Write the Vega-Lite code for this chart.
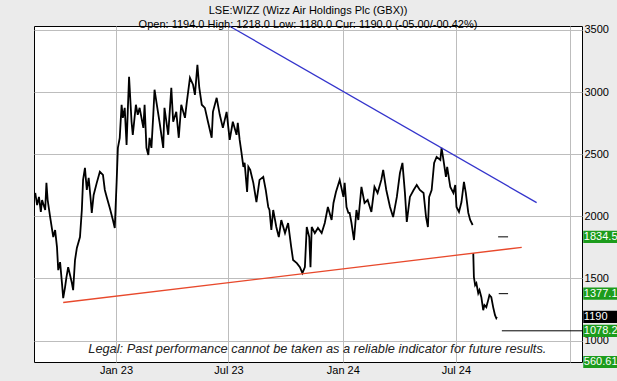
{
  "$schema": "https://vega.github.io/schema/vega-lite/v6.json",
  "width": 548,
  "height": 336,
  "autosize": {"type": "none"},
  "padding": {"left": 34, "top": 26, "right": 35, "bottom": 19},
  "background": "#ebebeb",
  "config": {
    "font": "Liberation Sans",
    "view": {"fill": "white", "stroke": "black", "strokeWidth": 1},
    "axis": {"labelFont": "Liberation Sans", "labelColor": "black", "labelFontSize": 11, "gridColor": "#bdbdbd", "gridWidth": 1, "gridOpacity": 1}
  },
  "title": {
    "text": "LSE:WIZZ (Wizz Air Holdings Plc (GBX))",
    "subtitle": "Open: 1194.0 High: 1218.0 Low: 1180.0 Cur: 1190.0 (-05.00/-00.42%)",
    "font": "Liberation Sans",
    "subtitleFont": "Liberation Sans",
    "fontSize": 11,
    "subtitleFontSize": 11,
    "fontWeight": "normal",
    "color": "black",
    "subtitleColor": "black",
    "anchor": "middle",
    "offset": -6,
    "subtitlePadding": 3
  },
  "datasets": {
    "price": [
      {"d":"2022-08-24","v":2188,"s":1},{"d":"2022-08-27","v":2091,"s":1},{"d":"2022-08-30","v":2156,"s":1},{"d":"2022-09-02","v":2035,"s":1},
      {"d":"2022-09-04","v":2131,"s":1},{"d":"2022-09-09","v":2051,"s":1},{"d":"2022-09-11","v":2269,"s":1},{"d":"2022-09-13","v":2131,"s":1},
      {"d":"2022-09-17","v":1994,"s":1},{"d":"2022-09-22","v":1833,"s":1},{"d":"2022-09-25","v":1889,"s":1},{"d":"2022-09-28","v":1752,"s":1},
      {"d":"2022-09-30","v":1567,"s":1},{"d":"2022-10-03","v":1631,"s":1},{"d":"2022-10-06","v":1462,"s":1},{"d":"2022-10-08","v":1341,"s":1},
      {"d":"2022-10-11","v":1430,"s":1},{"d":"2022-10-13","v":1502,"s":1},{"d":"2022-10-16","v":1591,"s":1},{"d":"2022-10-19","v":1527,"s":1},
      {"d":"2022-10-22","v":1462,"s":1},{"d":"2022-10-24","v":1406,"s":1},{"d":"2022-10-27","v":1648,"s":1},{"d":"2022-10-30","v":1745,"s":1},
      {"d":"2022-11-04","v":1833,"s":1},{"d":"2022-11-07","v":2051,"s":1},{"d":"2022-11-09","v":2293,"s":1},{"d":"2022-11-12","v":2390,"s":1},
      {"d":"2022-11-15","v":2212,"s":1},{"d":"2022-11-18","v":2309,"s":1},{"d":"2022-11-21","v":2148,"s":1},{"d":"2022-11-23","v":2027,"s":1},
      {"d":"2022-11-26","v":2172,"s":1},{"d":"2022-12-01","v":2269,"s":1},{"d":"2022-12-06","v":2358,"s":1},{"d":"2022-12-11","v":2333,"s":1},
      {"d":"2022-12-14","v":2212,"s":1},{"d":"2022-12-17","v":2156,"s":1},{"d":"2022-12-22","v":2067,"s":1},{"d":"2022-12-27","v":1970,"s":1},
      {"d":"2022-12-30","v":1906,"s":1},{"d":"2023-01-02","v":2277,"s":1},{"d":"2023-01-04","v":2551,"s":1},{"d":"2023-01-07","v":2632,"s":1},
      {"d":"2023-01-10","v":2898,"s":1},{"d":"2023-01-12","v":2793,"s":1},{"d":"2023-01-15","v":2873,"s":1},{"d":"2023-01-18","v":2575,"s":1},
      {"d":"2023-01-20","v":2857,"s":1},{"d":"2023-01-22","v":3123,"s":1},{"d":"2023-01-26","v":2761,"s":1},{"d":"2023-01-28","v":2656,"s":1},
      {"d":"2023-02-02","v":2898,"s":1},{"d":"2023-02-05","v":2817,"s":1},{"d":"2023-02-08","v":2873,"s":1},{"d":"2023-02-14","v":2712,"s":1},
      {"d":"2023-02-16","v":2898,"s":1},{"d":"2023-02-19","v":2551,"s":1},{"d":"2023-02-22","v":2494,"s":1},{"d":"2023-02-24","v":2632,"s":1},
      {"d":"2023-02-27","v":2551,"s":1},{"d":"2023-03-02","v":2817,"s":1},{"d":"2023-03-04","v":3019,"s":1},{"d":"2023-03-07","v":2922,"s":1},
      {"d":"2023-03-12","v":2761,"s":1},{"d":"2023-03-18","v":2551,"s":1},{"d":"2023-03-20","v":2873,"s":1},{"d":"2023-03-26","v":2656,"s":1},
      {"d":"2023-03-31","v":3035,"s":1},{"d":"2023-04-03","v":2761,"s":1},{"d":"2023-04-08","v":2841,"s":1},{"d":"2023-04-12","v":2632,"s":1},
      {"d":"2023-04-16","v":2898,"s":1},{"d":"2023-04-22","v":2793,"s":1},{"d":"2023-04-25","v":2922,"s":1},{"d":"2023-04-30","v":3115,"s":1},
      {"d":"2023-05-05","v":3059,"s":1},{"d":"2023-05-08","v":2978,"s":1},{"d":"2023-05-12","v":3220,"s":1},{"d":"2023-05-15","v":3035,"s":1},
      {"d":"2023-05-19","v":2898,"s":1},{"d":"2023-05-24","v":2873,"s":1},{"d":"2023-05-29","v":2761,"s":1},{"d":"2023-06-04","v":2632,"s":1},
      {"d":"2023-06-06","v":2841,"s":1},{"d":"2023-06-12","v":2954,"s":1},{"d":"2023-06-17","v":2817,"s":1},{"d":"2023-06-22","v":2712,"s":1},
      {"d":"2023-06-28","v":2841,"s":1},{"d":"2023-07-03","v":2615,"s":1},{"d":"2023-07-08","v":2761,"s":1},{"d":"2023-07-14","v":2656,"s":1},
      {"d":"2023-07-16","v":2753,"s":1},{"d":"2023-07-19","v":2615,"s":1},{"d":"2023-07-22","v":2510,"s":1},{"d":"2023-07-25","v":2398,"s":1},
      {"d":"2023-07-27","v":2430,"s":1},{"d":"2023-07-31","v":2196,"s":1},{"d":"2023-08-02","v":2398,"s":1},{"d":"2023-08-05","v":2373,"s":1},
      {"d":"2023-08-10","v":2269,"s":1},{"d":"2023-08-15","v":2115,"s":1},{"d":"2023-08-20","v":2293,"s":1},{"d":"2023-08-26","v":2317,"s":1},
      {"d":"2023-08-30","v":2212,"s":1},{"d":"2023-09-03","v":2075,"s":1},{"d":"2023-09-05","v":2051,"s":1},{"d":"2023-09-08","v":1890,"s":1},
      {"d":"2023-09-11","v":2051,"s":1},{"d":"2023-09-16","v":1914,"s":1},{"d":"2023-09-20","v":1833,"s":1},{"d":"2023-09-24","v":1970,"s":1},
      {"d":"2023-09-30","v":1865,"s":1},{"d":"2023-10-05","v":1946,"s":1},{"d":"2023-10-10","v":1752,"s":1},{"d":"2023-10-13","v":1648,"s":1},
      {"d":"2023-10-19","v":1623,"s":1},{"d":"2023-10-24","v":1591,"s":1},{"d":"2023-10-28","v":1543,"s":1},{"d":"2023-11-01","v":1591,"s":1},
      {"d":"2023-11-04","v":1914,"s":1},{"d":"2023-11-08","v":1833,"s":1},{"d":"2023-11-10","v":1591,"s":1},{"d":"2023-11-12","v":1914,"s":1},
      {"d":"2023-11-17","v":1865,"s":1},{"d":"2023-11-22","v":1906,"s":1},{"d":"2023-11-28","v":1865,"s":1},{"d":"2023-12-03","v":1946,"s":1},
      {"d":"2023-12-08","v":2075,"s":1},{"d":"2023-12-14","v":1970,"s":1},{"d":"2023-12-17","v":2107,"s":1},{"d":"2023-12-21","v":2196,"s":1},
      {"d":"2023-12-27","v":2293,"s":1},{"d":"2024-01-02","v":2156,"s":1},{"d":"2024-01-04","v":2269,"s":1},{"d":"2024-01-07","v":2075,"s":1},
      {"d":"2024-01-10","v":2027,"s":1},{"d":"2024-01-12","v":2027,"s":1},{"d":"2024-01-15","v":1946,"s":1},{"d":"2024-01-19","v":1809,"s":1},
      {"d":"2024-01-23","v":2051,"s":1},{"d":"2024-01-26","v":1970,"s":1},{"d":"2024-01-31","v":2237,"s":1},{"d":"2024-02-05","v":2107,"s":1},
      {"d":"2024-02-10","v":2131,"s":1},{"d":"2024-02-16","v":2035,"s":1},{"d":"2024-02-21","v":2237,"s":1},{"d":"2024-02-26","v":2188,"s":1},
      {"d":"2024-03-03","v":2293,"s":1},{"d":"2024-03-06","v":2374,"s":1},{"d":"2024-03-11","v":2212,"s":1},{"d":"2024-03-17","v":2075,"s":1},
      {"d":"2024-03-22","v":1994,"s":1},{"d":"2024-03-28","v":2156,"s":1},{"d":"2024-04-02","v":2350,"s":1},{"d":"2024-04-06","v":2430,"s":1},
      {"d":"2024-04-10","v":2188,"s":1},{"d":"2024-04-13","v":1954,"s":1},{"d":"2024-04-18","v":2156,"s":1},{"d":"2024-04-24","v":2212,"s":1},
      {"d":"2024-04-29","v":2252,"s":1},{"d":"2024-05-04","v":2212,"s":1},{"d":"2024-05-10","v":2188,"s":1},{"d":"2024-05-14","v":1994,"s":1},
      {"d":"2024-05-17","v":1914,"s":1},{"d":"2024-05-19","v":2156,"s":1},{"d":"2024-05-23","v":2212,"s":1},{"d":"2024-05-27","v":2430,"s":1},
      {"d":"2024-05-31","v":2478,"s":1},{"d":"2024-06-06","v":2454,"s":1},{"d":"2024-06-08","v":2551,"s":1},{"d":"2024-06-11","v":2454,"s":1},
      {"d":"2024-06-15","v":2317,"s":1},{"d":"2024-06-17","v":2398,"s":1},{"d":"2024-06-22","v":2237,"s":1},{"d":"2024-06-27","v":2188,"s":1},
      {"d":"2024-06-30","v":2252,"s":1},{"d":"2024-07-02","v":2075,"s":1},{"d":"2024-07-06","v":2035,"s":1},{"d":"2024-07-10","v":2115,"s":1},
      {"d":"2024-07-14","v":2277,"s":1},{"d":"2024-07-17","v":2188,"s":1},{"d":"2024-07-21","v":2027,"s":1},{"d":"2024-07-24","v":1970,"s":1},
      {"d":"2024-07-28","v":1930,"s":1},
      {"d":"2024-07-29","v":1704,"s":2},{"d":"2024-07-30","v":1511,"s":2},{"d":"2024-08-01","v":1446,"s":2},{"d":"2024-08-03","v":1462,"s":2},
      {"d":"2024-08-06","v":1381,"s":2},{"d":"2024-08-08","v":1406,"s":2},{"d":"2024-08-11","v":1349,"s":2},{"d":"2024-08-14","v":1244,"s":2},
      {"d":"2024-08-16","v":1285,"s":2},{"d":"2024-08-19","v":1269,"s":2},{"d":"2024-08-22","v":1325,"s":2},{"d":"2024-08-24","v":1365,"s":2},
      {"d":"2024-08-27","v":1349,"s":2},{"d":"2024-08-30","v":1269,"s":2},{"d":"2024-09-02","v":1204,"s":2},{"d":"2024-09-04","v":1180,"s":2},
      {"d":"2024-09-05","v":1190,"s":2}
    ],
    "trends": [
      {"kind":"resistance","d1":"2023-07-03","v1":3530,"d2":"2024-11-08","v2":2110},
      {"kind":"support","d1":"2022-10-08","v1":1306,"d2":"2024-10-15","v2":1750}
    ],
    "levels": [
      {"d1":"2024-09-13","d2":"2025-01-20","v":1078.2},
      {"d1":"2024-09-07","d2":"2024-09-23","v":1834.5},
      {"d1":"2024-09-08","d2":"2024-09-23","v":1377.1}
    ],
    "tags": [
      {"lab":"1834.5","v":1834.5,"kind":"target"},
      {"lab":"1377.1","v":1377.1,"kind":"target"},
      {"lab":"1190","v":1190,"kind":"current"},
      {"lab":"1078.2","v":1078.2,"kind":"target"},
      {"lab":"560.61","v":560.61,"kind":"target"}
    ]
  },
  "layer": [
    {
      "data": {"name": "price"},
      "mark": {"type": "line", "color": "black", "strokeWidth": 1.8, "strokeJoin": "miter"},
      "encoding": {
        "x": {
          "field": "d", "type": "temporal",
          "scale": {"domain": [{"year":2022,"month":8,"date":22},{"year":2025,"month":1,"date":20}], "nice": false},
          "axis": {
            "title": null, "orient": "bottom", "format": "%b %y",
            "values": [{"year":2023,"month":1,"date":1},{"year":2023,"month":7,"date":1},{"year":2024,"month":1,"date":1},{"year":2024,"month":7,"date":1},{"year":2025,"month":1,"date":1}],
            "labelExpr": "year(datum.value) > 2024 ? '' : datum.label",
            "grid": true, "ticks": false, "domain": false, "labelPadding": 2, "labelBaseline": "top"
          }
        },
        "y": {
          "field": "v", "type": "quantitative",
          "scale": {"domain": [827, 3532], "nice": false, "zero": false, "clamp": true},
          "axis": {
            "title": null, "orient": "right", "values": [1000,1500,2000,2500,3000,3500], "format": "d",
            "grid": true, "ticks": false, "domain": false, "labelPadding": 2, "labelAlign": "left", "labelBaseline": "middle"
          }
        },
        "detail": {"field": "s"}
      }
    },
    {
      "data": {"name": "trends"},
      "mark": {"type": "rule", "strokeWidth": 1.3},
      "encoding": {
        "x": {"field": "d1", "type": "temporal"},
        "x2": {"field": "d2"},
        "y": {"field": "v1", "type": "quantitative"},
        "y2": {"field": "v2"},
        "color": {"field": "kind", "type": "nominal", "scale": {"domain": ["resistance","support"], "range": ["#3434cc","#e8492c"]}, "legend": null}
      }
    },
    {
      "data": {"name": "levels"},
      "mark": {"type": "rule", "color": "black", "strokeWidth": 1},
      "encoding": {
        "x": {"field": "d1", "type": "temporal"},
        "x2": {"field": "d2"},
        "y": {"field": "v", "type": "quantitative"}
      }
    },
    {
      "data": {"values": [{"t": "Legal: Past performance cannot be taken as a reliable indicator for future results."}]},
      "mark": {"type": "text", "font": "Liberation Sans", "fontStyle": "italic", "fontSize": 12.8, "color": "#222", "align": "center", "baseline": "middle"},
      "encoding": {
        "text": {"field": "t"},
        "x": {"datum": {"year":2023,"month":11,"date":21}, "type": "temporal"},
        "y": {"datum": 934, "type": "quantitative"}
      }
    },
    {
      "data": {"name": "tags"},
      "mark": {"type": "point", "shape": "M-1,-0.34H1V0.34H-1Z", "size": 1296, "filled": true, "opacity": 1, "strokeWidth": 0},
      "encoding": {
        "x": {"datum": {"year":2025,"month":2,"date":20}, "type": "temporal"},
        "y": {"field": "v", "type": "quantitative"},
        "color": {"field": "kind", "type": "nominal", "scale": {"domain": ["target","current"], "range": ["#1c9c1c","#000000"]}, "legend": null}
      }
    },
    {
      "data": {"name": "tags"},
      "mark": {"type": "text", "font": "Liberation Sans", "fontSize": 11, "color": "white", "align": "left", "baseline": "middle"},
      "encoding": {
        "x": {"datum": {"year":2025,"month":1,"date":23}, "type": "temporal"},
        "y": {"field": "v", "type": "quantitative"},
        "text": {"field": "lab"}
      }
    }
  ],
  "resolve": {"scale": {"color": "independent"}}
}
